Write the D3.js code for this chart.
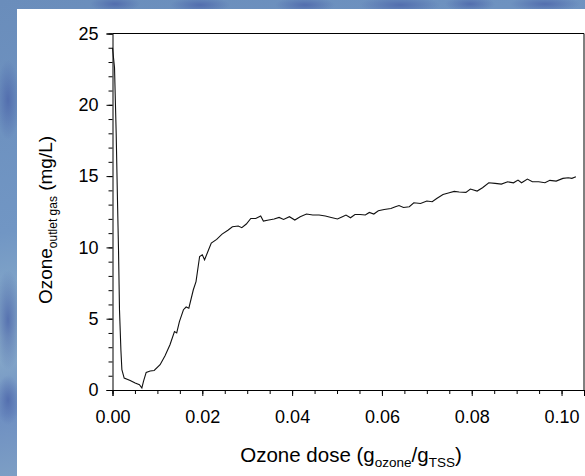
<!DOCTYPE html>
<html>
<head>
<meta charset="utf-8">
<script src="https://cdn.jsdelivr.net/npm/d3@7"></script>
<style>
  body { margin: 0; padding: 0; overflow: hidden; }
  svg { display: block; }
</style>
</head>
<body>
<script>
// SVG area dimensions
var svgWidth = 585;
var svgHeight = 476;

// Plot box inside the white panel
var margin = { top: 33.5, right: 1, bottom: 86, left: 112.5 };
var width = svgWidth - margin.left - margin.right;
var height = svgHeight - margin.top - margin.bottom;

// Data: ozone dose (g ozone / g TSS) vs outlet gas ozone (mg/L)
var doseValues = [0, 0.00045, 0.00082, 0.00111, 0.00134, 0.00156, 0.00187, 0.00209, 0.0026, 0.00394,
  0.00505, 0.006, 0.00654, 0.0069, 0.0075, 0.00839, 0.00928, 0.0106, 0.0117, 0.0128,
  0.0138, 0.0143, 0.0149, 0.0158, 0.0164, 0.0170, 0.0180, 0.0186, 0.0194, 0.0200,
  0.0205, 0.0214, 0.0220, 0.0232, 0.0244, 0.0257, 0.0267, 0.0280, 0.0288, 0.0298,
  0.0308, 0.0319, 0.0330, 0.0336, 0.0348, 0.0360, 0.0371, 0.0381, 0.0394, 0.0406,
  0.0418, 0.0432, 0.0446, 0.0460, 0.0474, 0.0487, 0.0501, 0.0512, 0.0520, 0.0530,
  0.0540, 0.0551, 0.0563, 0.0572, 0.0582, 0.0592, 0.0605, 0.0620, 0.0630, 0.0638,
  0.0648, 0.0661, 0.0671, 0.0686, 0.0700, 0.0712, 0.0722, 0.0736, 0.0750, 0.0761,
  0.0772, 0.0787, 0.0797, 0.0812, 0.0824, 0.0838, 0.0852, 0.0866, 0.0880, 0.0893,
  0.0903, 0.0911, 0.0924, 0.0935, 0.0949, 0.0963, 0.0974, 0.0988, 0.1003, 0.1015,
  0.1023, 0.1032];
var ozoneValues = [24.0, 22.6, 18.0, 13.3, 9.8, 5.6, 2.8, 1.42, 0.84, 0.67,
  0.49, 0.37, 0.14, 0.6, 1.23, 1.33, 1.37, 1.77, 2.4, 3.17,
  4.1, 4.0, 4.8, 5.63, 5.82, 5.74, 7.03, 7.6, 9.36, 9.48,
  9.13, 9.83, 10.3, 10.56, 10.93, 11.2, 11.45, 11.5, 11.38, 11.64,
  12.03, 12.03, 12.2, 11.85, 11.92, 11.99, 12.1, 11.96, 12.15, 11.92,
  12.15, 12.34, 12.27, 12.27, 12.2, 12.1, 11.99, 12.15, 12.27, 12.08,
  12.31, 12.31, 12.27, 12.45, 12.34, 12.57, 12.66, 12.73, 12.85, 12.94,
  12.8, 12.85, 13.13, 13.08, 13.25, 13.2, 13.43, 13.71, 13.83, 13.93,
  13.88, 13.86, 14.09, 13.95, 14.18, 14.53, 14.49, 14.44, 14.6, 14.53,
  14.72, 14.53, 14.79, 14.6, 14.6, 14.53, 14.7, 14.65, 14.84, 14.88,
  14.84, 14.95];

// Tick labels
var xTicks = [0, 0.02, 0.04, 0.06, 0.08, 0.10];
var yTicks = [0, 5, 10, 15, 20, 25];

var svg = d3.select("body")
  .append("svg")
  .attr("width", svgWidth)
  .attr("height", svgHeight);

// Blue slide background
var defs = svg.append("defs");
var bg = defs.append("linearGradient")
  .attr("id", "bg")
  .attr("x1", 0).attr("y1", 0).attr("x2", 0.3).attr("y2", 1);
bg.append("stop").attr("offset", "0%").attr("stop-color", "#6a8dbb");
bg.append("stop").attr("offset", "45%").attr("stop-color", "#7196c4");
bg.append("stop").attr("offset", "65%").attr("stop-color", "#8cafcb");
bg.append("stop").attr("offset", "80%").attr("stop-color", "#6e8fc2");
bg.append("stop").attr("offset", "100%").attr("stop-color", "#86a8c6");
var blob = defs.append("radialGradient").attr("id", "blob");
blob.append("stop").attr("offset", "0%").attr("stop-color", "#4e68ab").attr("stop-opacity", 0.85);
blob.append("stop").attr("offset", "100%").attr("stop-color", "#4e68ab").attr("stop-opacity", 0);

svg.append("rect")
  .attr("width", svgWidth)
  .attr("height", svgHeight)
  .attr("fill", "url(#bg)");

// darker patches along the top and left strips
[[115, 4, 25, 8], [200, 5, 30, 8], [305, 5, 30, 8], [400, 5, 40, 9], [470, 4, 25, 8], [545, 4, 35, 8]]
  .forEach(function(b) {
    svg.append("ellipse")
      .attr("cx", b[0]).attr("cy", b[1]).attr("rx", b[2]).attr("ry", b[3])
      .attr("fill", "url(#blob)");
  });
[[8, 100, 12, 40], [8, 320, 14, 50], [8, 400, 12, 25]]
  .forEach(function(b) {
    svg.append("ellipse")
      .attr("cx", b[0]).attr("cy", b[1]).attr("rx", b[2]).attr("ry", b[3])
      .attr("fill", "url(#blob)");
  });

// White panel
svg.append("rect")
  .attr("x", 17)
  .attr("y", 9)
  .attr("width", svgWidth - 17)
  .attr("height", svgHeight - 9)
  .attr("fill", "#ffffff");

var chartGroup = svg.append("g")
  .attr("transform", `translate(${margin.left}, ${margin.top})`);

// Scales
var xScale = d3.scaleLinear()
  .domain([0, 0.105])
  .range([0, width]);
var yScale = d3.scaleLinear()
  .domain([0, 25])
  .range([height, 0]);

var fontFamily = "'Liberation Sans', Arial, sans-serif";

// Minor ticks
chartGroup.append("g")
  .attr("transform", `translate(0, ${height})`)
  .call(d3.axisBottom(xScale).tickValues(d3.range(0, 0.1051, 0.005)).tickSize(4).tickFormat(""))
  .call(g => g.select(".domain").remove());
chartGroup.append("g")
  .call(d3.axisLeft(yScale).tickValues(d3.range(0, 26, 1)).tickSize(4).tickFormat(""))
  .call(g => g.select(".domain").remove());

// Major ticks with labels
var xAxis = chartGroup.append("g")
  .attr("transform", `translate(0, ${height})`)
  .call(d3.axisBottom(xScale).tickValues(xTicks).tickSize(6).tickPadding(14).tickFormat(d3.format(".2f")));
xAxis.selectAll("text")
  .attr("font-family", fontFamily)
  .attr("font-size", 18)
  .attr("fill", "#000");

var yAxis = chartGroup.append("g")
  .call(d3.axisLeft(yScale).tickValues(yTicks).tickSize(6).tickPadding(8));
yAxis.selectAll("text")
  .attr("font-family", fontFamily)
  .attr("font-size", 18)
  .attr("fill", "#000");

chartGroup.selectAll(".domain").attr("stroke", "#000");

// Frame top and right
chartGroup.append("path")
  .attr("d", `M0,0H${width}V${height}`)
  .attr("fill", "none")
  .attr("stroke", "#000")
  .attr("stroke-width", 1);

// The curve
var lineData = doseValues.map((d, i) => ({ x: d, y: ozoneValues[i] }));
var line = d3.line()
  .x(d => xScale(d.x))
  .y(d => yScale(d.y));
chartGroup.append("path")
  .datum(lineData)
  .attr("d", line)
  .attr("fill", "none")
  .attr("stroke", "#111")
  .attr("stroke-width", 1.1);

// Axis titles
var xTitle = svg.append("text")
  .attr("x", 351)
  .attr("y", 462)
  .attr("text-anchor", "middle")
  .attr("font-family", fontFamily)
  .attr("font-size", 20.5)
  .attr("fill", "#000");
xTitle.append("tspan").text("Ozone dose (g");
xTitle.append("tspan").attr("font-size", 13.5).attr("dy", 5).text("ozone");
xTitle.append("tspan").attr("dy", -5).text("/g");
xTitle.append("tspan").attr("font-size", 13.5).attr("dy", 5).text("TSS");
xTitle.append("tspan").attr("dy", -5).text(")");

var yTitle = svg.append("text")
  .attr("transform", "translate(52, 220) rotate(-90)")
  .attr("text-anchor", "middle")
  .attr("font-family", fontFamily)
  .attr("font-size", 19)
  .attr("fill", "#000");
yTitle.append("tspan").text("Ozone");
yTitle.append("tspan").attr("font-size", 12).attr("dy", 5).text("outlet gas");
yTitle.append("tspan").attr("dy", -5).text(" (mg/L)");
</script>
</body>
</html>
